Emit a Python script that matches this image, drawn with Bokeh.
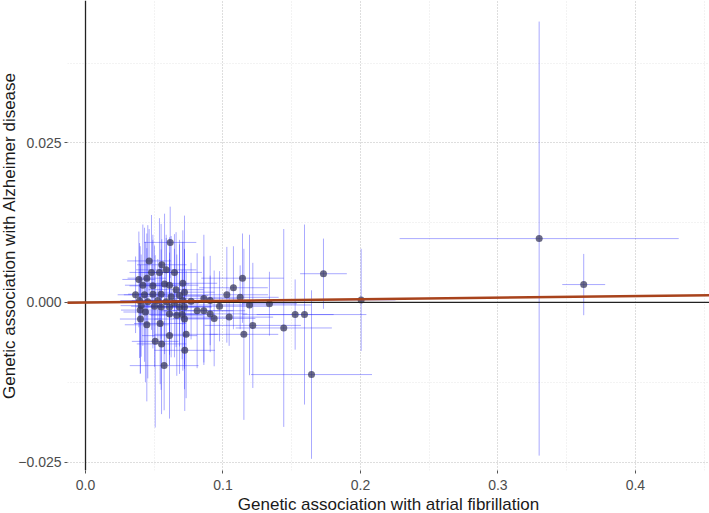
import numpy as np
from bokeh.plotting import figure
from bokeh.models import ColumnDataSource, FixedTicker, Span, Slope, Range1d, Title
from bokeh.embed import file_html
from bokeh.resources import INLINE

# --- data ---
# genetic association with atrial fibrillation (exposure beta)
bx = [0.0616, 0.0463, 0.0555, 0.0587, 0.0538, 0.0647, 0.0480, 0.0388, 0.0446, 0.0417,
      0.0490, 0.0575, 0.0611, 0.0659, 0.0708, 0.0720, 0.0364, 0.0429, 0.0490, 0.0550,
      0.0623, 0.0684, 0.0393, 0.0453, 0.0526, 0.0587, 0.0647, 0.0708, 0.0405, 0.0502,
      0.0550, 0.0611, 0.0684, 0.0720, 0.0398, 0.0436, 0.0611, 0.0664, 0.0703, 0.0720,
      0.0400, 0.0446, 0.0543, 0.0611, 0.0732, 0.0507, 0.0553, 0.0722, 0.0572, 0.0768,
      0.0812, 0.0861, 0.0861, 0.0907, 0.0907, 0.0936, 0.0975, 0.1028, 0.1076, 0.1142,
      0.1125, 0.1045, 0.1152, 0.1193, 0.1217, 0.1338, 0.1442, 0.1525, 0.1593, 0.1644,
      0.1731, 0.2005, 0.3300, 0.3624]
# genetic association with Alzheimer disease (outcome beta)
by = [0.0094, 0.0065, 0.0059, 0.0051, 0.0047, 0.0047, 0.0047, 0.0036, 0.0038, 0.0027,
      0.0026, 0.0029, 0.0027, 0.0020, 0.0030, 0.0016, 0.0012, 0.0012, 0.0013, 0.0013,
      0.0009, 0.0011, 0.0003, 0.0001, 0.0003, 0.0001, -0.0001, 0.0003, -0.0005, -0.0006,
      -0.0007, -0.0007, -0.0007, -0.0007, -0.0012, -0.0015, -0.0018, -0.0020, -0.0019, -0.0026,
      -0.0026, -0.0035, -0.0033, -0.0052, -0.0050, -0.0061, -0.0065, -0.0075, -0.0099, 0.0002,
      -0.0013, 0.0006, -0.0013, 0.0003, -0.0018, -0.0025, -0.0006, 0.0012, 0.0023, 0.0038,
      0.0008, -0.0023, -0.0050, -0.0004, -0.0036, -0.0002, -0.0040, -0.0019, -0.0019, -0.0113,
      0.0045, 0.0004, 0.0100, 0.0028]
# 95% CI half-widths, exposure
cix = [0.019, 0.016, 0.018, 0.022, 0.015, 0.020, 0.016, 0.012, 0.014, 0.013,
       0.017, 0.018, 0.021, 0.020, 0.025, 0.022, 0.013, 0.015, 0.018, 0.016,
       0.024, 0.021, 0.014, 0.016, 0.019, 0.020, 0.018, 0.026, 0.015, 0.017,
       0.018, 0.022, 0.023, 0.020, 0.014, 0.016, 0.021, 0.019, 0.024, 0.022,
       0.015, 0.016, 0.019, 0.020, 0.023, 0.017, 0.018, 0.022, 0.025, 0.024,
       0.026, 0.025, 0.030, 0.028, 0.027, 0.030, 0.035, 0.030, 0.025, 0.030,
       0.028, 0.032, 0.025, 0.045, 0.035, 0.020, 0.035, 0.028, 0.045, 0.044,
       0.017, 0.025, 0.1015, 0.0156]
# 95% CI half-widths, outcome
ciy = [0.0056, 0.0050, 0.0040, 0.0055, 0.0085, 0.0060, 0.0090, 0.0075, 0.0070, 0.0095,
       0.0080, 0.0110, 0.0075, 0.0090, 0.0065, 0.0120, 0.0060, 0.0105, 0.0085, 0.0070,
       0.0095, 0.0080, 0.0090, 0.0120, 0.0065, 0.0100, 0.0085, 0.0110, 0.0080, 0.0095,
       0.0130, 0.0075, 0.0105, 0.0090, 0.0100, 0.0110, 0.0080, 0.0095, 0.0070, 0.0110,
       0.0085, 0.0120, 0.0095, 0.0130, 0.0100, 0.0135, 0.0110, 0.0095, 0.0070, 0.0060,
       0.0090, 0.0100, 0.0085, 0.0070, 0.0060, 0.0075, 0.0055, 0.0075, 0.0065, 0.0070,
       0.0050, 0.0045, 0.0134, 0.0110, 0.0098, 0.0050, 0.0155, 0.0055, 0.0141, 0.0132,
       0.0055, 0.0080, 0.0340, 0.0048]
# fitted causal-effect line (estimated)
fit_slope = 0.0025
fit_intercept = 0.0

x_ticks = [0.0, 0.1, 0.2, 0.3, 0.4]
x_tick_labels = ["0.0", "0.1", "0.2", "0.3", "0.4"]
y_ticks = [-0.025, 0.0, 0.025]
y_tick_labels = ["\u22120.025", "0.000", "0.025"]
x_title = "Genetic association with atrial fibrillation"
y_title = "Genetic association with Alzheimer disease"

bx_a = np.array(bx); by_a = np.array(by)
cix_a = np.array(cix); ciy_a = np.array(ciy)
src = ColumnDataSource(dict(
    x=bx_a, y=by_a,
    xl=bx_a - cix_a, xr=bx_a + cix_a,
    yl=by_a - ciy_a, yu=by_a + ciy_a,
))

p = figure(width=709, height=513, output_backend="svg", toolbar_location=None,
           x_range=Range1d(-0.0131, 0.4539), y_range=Range1d(-0.02633, 0.0473),
           min_border_left=60, min_border_right=0, min_border_top=0, min_border_bottom=43)
p.outline_line_color = None
p.background_fill_color = "white"

# grid
p.xaxis.ticker = FixedTicker(ticks=x_ticks, minor_ticks=[-0.05, 0.05, 0.15, 0.25, 0.35, 0.45])
p.yaxis.ticker = FixedTicker(ticks=y_ticks, minor_ticks=[-0.0125, 0.0125, 0.0375])
p.xaxis.major_label_overrides = {t: l for t, l in zip(x_ticks, x_tick_labels)}
p.yaxis.major_label_overrides = {t: l for t, l in zip(y_ticks, y_tick_labels)}
for g in (p.xgrid, p.ygrid):
    g.grid_line_color = "#bdbdbd"
    g.grid_line_dash = "1 2"
    g.grid_line_width = 1
    g.minor_grid_line_color = "#e6e6e6"
    g.minor_grid_line_dash = "1 2"

for ax in (p.xaxis, p.yaxis):
    ax.axis_line_color = None
    ax.major_tick_line_color = "#555555"
    ax.major_tick_in = 0
    ax.major_tick_out = 3
    ax.minor_tick_line_color = None
    ax.major_label_text_font = "Liberation Sans"
    ax.major_label_text_font_size = "14px"
    ax.major_label_text_color = "#4d4d4d"
p.xaxis.major_label_standoff = 5
p.yaxis.major_label_standoff = 2

# axis titles
xt = Title(text=x_title, align="center", standoff=0,
           text_font="Liberation Sans", text_font_size="17px", text_font_style="normal",
           text_color="#1a1a1a")
yt = Title(text=y_title, align="center", offset=8, standoff=-6,
           text_font="Liberation Sans", text_font_size="17px", text_font_style="normal",
           text_color="#1a1a1a")
p.add_layout(xt, "below")
p.add_layout(yt, "left")

# zero lines
p.add_layout(Span(location=0, dimension="height", line_color="#222222", line_width=1.3))
p.add_layout(Span(location=0, dimension="width", line_color="#222222", line_width=1.3))

# error bars
p.segment(x0="xl", y0="y", x1="xr", y1="y", source=src, line_color="#2b2bff", line_alpha=0.4, line_width=1)
p.segment(x0="x", y0="yl", x1="x", y1="yu", source=src, line_color="#2b2bff", line_alpha=0.4, line_width=1)

# points
p.scatter(x="x", y="y", source=src, size=7, fill_color="#3a3a5c", fill_alpha=0.75, line_color=None)

# fitted line
p.add_layout(Slope(gradient=fit_slope, y_intercept=fit_intercept, line_color="#a8431c", line_width=2.5))

open("out.html", "w").write(file_html(p, INLINE))
